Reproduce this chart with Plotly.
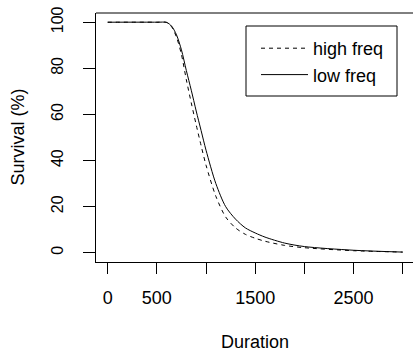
import plotly.graph_objects as go

duration = [0, 500, 600, 650, 700, 750, 800, 850, 900, 950, 1000, 1100, 1200,
            1300, 1400, 1500, 1600, 1800, 2000, 2500, 3000]
high_freq = [100, 100, 99.9, 98, 93.5, 86, 75, 65, 55.5, 46.5, 38, 24.5, 15.5,
             10.8, 8, 6.3, 5, 3.2, 2.2, 0.9, 0.3]
low_freq = [100, 100, 99.9, 98.3, 94.5, 88, 79, 70.5, 61.5, 53, 44.5, 30, 20,
            14.6, 10.8, 8.6, 6.8, 4.2, 2.7, 1.1, 0.3]
x_ticks = [0, 500, 1000, 1500, 2000, 2500, 3000]
x_ticktext = ["0", "500", "", "1500", "", "2500", ""]
y_ticks = [0, 20, 40, 60, 80, 100]

FONT = "Liberation Sans, Arial, sans-serif"

fig = go.Figure()
fig.add_trace(go.Scatter(x=duration, y=high_freq, mode="lines", name="high freq",
                         line=dict(color="black", width=1, dash="4px,4px",
                                   shape="spline", smoothing=0.8)))
fig.add_trace(go.Scatter(x=duration, y=low_freq, mode="lines", name="low freq",
                         line=dict(color="black", width=1,
                                   shape="spline", smoothing=0.8)))

W, H = 413, 351
L, R, T, B = 96, 0, 13, 89
pw, ph = W - L - R, H - T - B

def px_x(p):
    return (p - L) / pw

def px_y(p):
    return (H - B - p) / ph

fig.update_layout(
    width=W, height=H,
    margin=dict(l=L, r=R, t=T, b=B, pad=0),
    paper_bgcolor="white", plot_bgcolor="white",
    font=dict(family=FONT, size=18, color="black"),
    showlegend=True,
    legend=dict(x=px_x(256), y=px_y(30), xanchor="left", yanchor="top",
                bgcolor="rgba(0,0,0,0)", borderwidth=0, itemwidth=47,
                font=dict(size=18), tracegroupgap=0),
    xaxis=dict(range=[-119, 3105], tickvals=x_ticks, ticktext=x_ticktext,
               ticks="outside", ticklen=11, tickwidth=1, tickcolor="black",
               showline=True, linecolor="black", linewidth=1, mirror=False,
               showgrid=False, zeroline=False, tickfont=dict(size=18),
               ticklabelstandoff=8),
    yaxis=dict(range=[-4, 104], tickvals=y_ticks,
               ticks="outside", ticklen=12, tickwidth=1, tickcolor="black",
               showline=True, linecolor="black", linewidth=1, mirror=False,
               showgrid=False, zeroline=False, tickangle=-90,
               tickfont=dict(size=16), ticklabelstandoff=14),
    shapes=[
        dict(type="line", xref="paper", yref="paper", x0=0, x1=1, y0=1, y1=1,
             line=dict(color="black", width=1)),
        dict(type="rect", xref="paper", yref="paper",
             x0=px_x(246), x1=px_x(397), y0=px_y(96), y1=px_y(26),
             line=dict(color="black", width=1)),
    ],
    annotations=[
        dict(text="Duration", xref="paper", yref="paper", x=px_x(255), y=px_y(342),
             xanchor="center", yanchor="middle", showarrow=False,
             font=dict(size=18)),
        dict(text="Survival (%)", xref="paper", yref="paper", x=px_x(17), y=px_y(137.5),
             xanchor="center", yanchor="middle", showarrow=False, textangle=-90,
             font=dict(size=18)),
    ],
)

fig.write_html("out.html")
